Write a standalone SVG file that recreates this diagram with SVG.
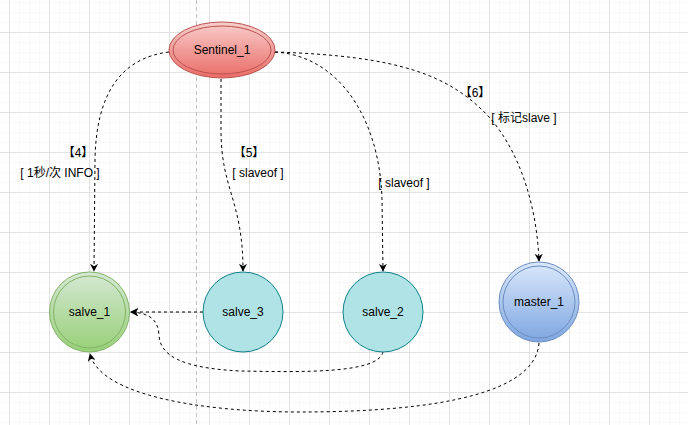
<svg xmlns="http://www.w3.org/2000/svg" width="688" height="425" viewBox="0 0 688 425">
<defs>
<pattern id="minor" x="9" y="2" width="10" height="10" patternUnits="userSpaceOnUse">
<path d="M0,0 H10 M0,0 V10" fill="none" stroke="#f3f3f3" stroke-width="1"/>
</pattern>
<pattern id="major" x="9" y="32" width="40" height="40" patternUnits="userSpaceOnUse">
<path d="M0,0.5 H40 M0.5,0 V40" fill="none" stroke="#e2e2e2" stroke-width="1"/>
</pattern>
<linearGradient id="gRed" x1="0" y1="0" x2="0" y2="1">
<stop offset="0" stop-color="#f8cecc"/><stop offset="1" stop-color="#ea6b66"/>
</linearGradient>
<linearGradient id="gGreen" x1="0" y1="0" x2="0" y2="1">
<stop offset="0" stop-color="#d5e8d4"/><stop offset="1" stop-color="#97d077"/>
</linearGradient>
<linearGradient id="gBlue" x1="0" y1="0" x2="0" y2="1">
<stop offset="0" stop-color="#dae8fc"/><stop offset="1" stop-color="#7ea6e0"/>
</linearGradient>
<marker id="arr" viewBox="0 0 10 10" refX="9" refY="5" markerWidth="8" markerHeight="8" markerUnits="userSpaceOnUse" orient="auto">
<path d="M0,0 L10,5 L0,10 L3,5 Z" fill="#000"/>
</marker>
</defs>
<style>
text{font-family:"Liberation Sans",Arial,"Noto Sans CJK SC",sans-serif;font-size:12px;fill:#000;text-anchor:middle;dominant-baseline:central}
.e{fill:none;stroke:#000;stroke-width:1;stroke-dasharray:3 3;marker-end:url(#arr)}
</style>
<rect width="688" height="425" fill="#fff"/>
<rect width="688" height="425" fill="url(#minor)"/>
<rect width="688" height="425" fill="url(#major)"/>
<line x1="196.5" y1="0" x2="196.5" y2="425" stroke="#c0c0c0" stroke-dasharray="4 3"/>

<g id="connectors">
<path class="e" d="M169,52 C120,58 96,95 95,160 L94,271"/>
<path class="e" d="M221,79 L221,130 C221,190 243,200 243,271"/>
<path class="e" d="M275,52 C340,56 380,120 382,200 L383,271"/>
<path class="e" d="M275,52 C400,56 450,75 490,118 C522,155 537,210 539,261"/>
<path class="e" d="M203,312 L131,312"/>
<path class="e" d="M383,352 C378,374 300,372 240,371 C180,368 160,355 159,335 C158,320 150,313 131,312"/>
<path class="e" d="M539,343 C535,402 400,412 300,412 C200,412 100,395 90,354"/>
</g>

<g id="labels">
<text x="78" y="153">【4】</text>
<text x="60" y="173">[ 1秒/次 INFO ]</text>
<text x="249" y="153">【5】</text>
<text x="258" y="173">[ slaveof ]</text>
<text x="404" y="183">[ slaveof ]</text>
<text x="475" y="93">【6】</text>
<text x="524" y="118">[ 标记slave ]</text>
</g>

<g id="sentinel_1">
<ellipse cx="222" cy="50" rx="53" ry="28" fill="url(#gRed)" stroke="#b85450"/>
<ellipse cx="222" cy="50" rx="49" ry="24" fill="none" stroke="#b85450"/>
<text x="222" y="50">Sentinel_1</text>
</g>
<g id="salve_1">
<circle cx="89.5" cy="312" r="40" fill="url(#gGreen)" stroke="#82b366"/>
<circle cx="89.5" cy="312" r="36" fill="none" stroke="#82b366"/>
<text x="89.5" y="312">salve_1</text>
</g>
<g id="salve_3">
<circle cx="243" cy="312" r="40" fill="#b0e3e6" stroke="#0e8088"/>
<text x="243" y="312">salve_3</text>
</g>
<g id="salve_2">
<circle cx="383" cy="312" r="40" fill="#b0e3e6" stroke="#0e8088"/>
<text x="383" y="312">salve_2</text>
</g>
<g id="master_1">
<circle cx="539" cy="302" r="40" fill="url(#gBlue)" stroke="#6c8ebf"/>
<circle cx="539" cy="302" r="36" fill="none" stroke="#6c8ebf"/>
<text x="539" y="302">master_1</text>
</g>
</svg>
